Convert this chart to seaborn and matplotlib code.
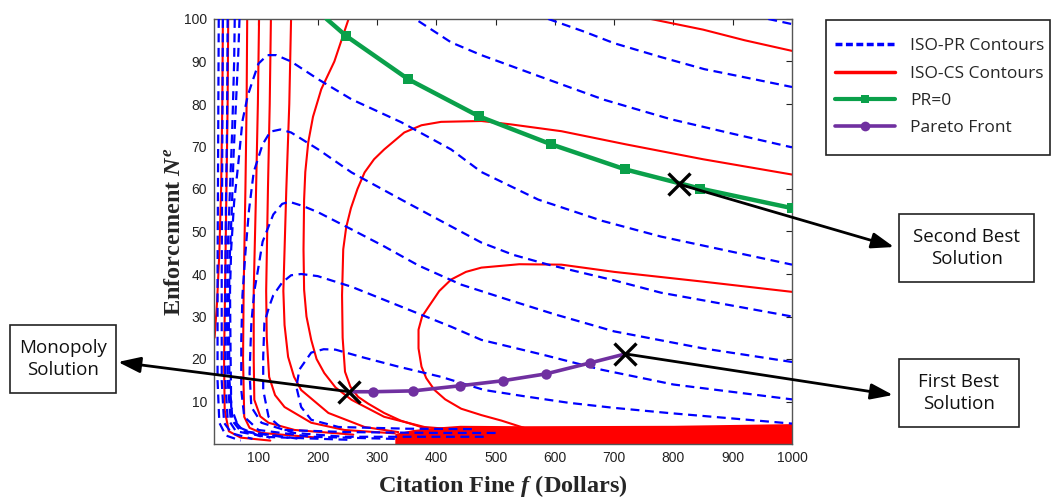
import pandas as pd
import seaborn as sns
import matplotlib.pyplot as plt
from matplotlib.lines import Line2D
from matplotlib.patches import Rectangle

# ISO-PR contours (blue dashed) (x = fine, y = enforcement)
pr_top = [(960, 100), (1000, 98.8)]
pr_a = [(589, 100), (650, 97), (700, 94.3), (780, 91), (852, 88.2), (930, 86), (1000, 84)]
pr_b = [(370, 99.5), (425, 94.5), (476, 91.5), (572, 86.6), (683, 81), (796, 76.4), (900, 73), (1000, 69.8)]
pr_c = [(250, 1.0), (105, 1.7), (66, 4), (54, 8.7), (53, 20.5), (52, 36), (54, 46), (59, 57), (66, 66),
        (73, 76), (82, 82), (90, 85.4), (100, 89.5), (115, 91.5), (130, 91.5), (155, 90), (201, 85.8),
        (257, 81.1), (341, 75.7), (425, 69.3), (476, 64), (572, 57.5), (611, 55.7), (680, 52.5),
        (779, 48.8), (890, 45.5), (1000, 42.2)]
pr_d = [(330, 1.2), (189, 1.7), (100, 3.3), (76, 6.4), (71, 12.7), (71, 24.5), (73, 35), (78, 45),
        (84, 55), (92, 64), (107, 70.5), (120, 73.5), (137, 74), (155, 73.3), (201, 69.3), (257, 63.9),
        (341, 57.5), (425, 51.2), (476, 47.4), (530, 44.5), (589, 42.2), (700, 38.5), (779, 35.6),
        (890, 32.8), (1000, 30)]
pr_e = [(480, 1.7), (245, 1.7), (160, 2.6), (105, 5), (88, 8.7), (85, 16.7), (88, 28.5), (93, 36),
        (98, 40), (107, 47.6), (125, 54), (140, 56.5), (152, 57), (175, 56), (201, 54.5), (257, 50.5),
        (312, 46.5), (370, 42), (442, 37.5), (520, 34), (600, 30.5), (700, 26.5), (850, 22.5), (1000, 19.3)]
pr_f = [(500, 2.6), (400, 2.6), (250, 2.8), (143, 3.3), (117, 6.4), (108, 12.7), (108, 20.5), (110, 28.5),
        (118, 32.3), (125, 35), (140, 38), (155, 39.7), (172, 40), (200, 39.5), (257, 37), (341, 32.3),
        (425, 27.6), (476, 24.5), (580, 21), (678, 17.5), (800, 14), (1000, 10.5)]
pr_g = [(460, 3.5), (350, 3.6), (235, 4), (189, 5.7), (172, 8.7), (164, 13.4), (169, 17.5), (189, 21.5),
        (210, 22.3), (230, 22.2), (273, 20.5), (336, 18.2), (408, 15.8), (481, 12.7), (550, 11.2),
        (623, 9.7), (700, 8.5), (791, 7.3), (900, 6), (1000, 4.8)]
pr_x1 = [(33, 100), (32, 70), (31, 40), (31, 15), (34, 5), (45, 2), (70, 0.8)]
pr_x2 = [(40, 100), (39, 70), (38, 40), (38, 15), (42, 5), (55, 2.5), (90, 1.2)]
pr_x3 = [(48, 100), (47, 75), (45, 55), (44, 35), (44, 15), (48, 6), (62, 3), (120, 1.5)]
pr_x4 = [(60, 100), (59, 90), (56, 75), (52, 60), (48, 45), (47, 30), (48, 15), (53, 6), (70, 3), (150, 1.5)]
pr_x5 = [(68, 100), (66, 92), (62, 80), (58, 68), (55, 55), (51, 42), (50, 30), (51, 15), (56, 6),
         (75, 3), (170, 1.2)]

# ISO-CS contours (red solid)
cs_r1 = [(40, 100), (39, 80), (37, 60), (34, 45), (30, 33), (26, 25)]
cs_r2 = [(49, 100), (48, 80), (46, 60), (44, 40), (42, 20), (43, 8), (50, 3), (70, 1.5), (120, 0.8)]
cs_a = [(81, 100), (80, 80), (78, 60), (75, 36), (74, 20), (76, 6.4), (85, 3.8), (105, 2.6), (200, 1.5)]
cs_b = [(101, 100), (99, 80), (96, 60), (92, 36), (92, 20), (93, 10.4), (103, 6.5), (117, 5), (161, 3.3),
        (260, 2.2)]
cs_c = [(121, 100), (119, 80), (116, 60), (113, 36), (114, 25), (118, 15.8), (128, 11.5), (144, 8.7),
        (189, 5), (245, 3.3), (330, 2.5)]
cs_d = [(155, 100), (152, 80), (147, 60), (142, 36), (144, 28), (150, 20.5), (160, 15.8), (172, 12.7),
        (218, 7.3), (279, 4), (336, 2.8)]
cs_e = [(252, 100), (228, 90), (206, 83.5), (192, 77), (184, 71), (179, 64), (177, 57.5), (176, 45.8),
        (177, 36.3), (181, 30), (189, 24.5), (198, 20), (211, 16.7), (230, 13.3), (257, 10.4), (312, 6.4),
        (380, 4), (450, 3.2)]
cs_loop1 = [(386, 3.5), (340, 5.5), (312, 7.3), (285, 9.5), (268, 11.1), (255, 13.5), (246, 17), (242, 25),
            (241, 35), (243, 45.8), (248, 51), (256, 55.5), (267, 60), (279, 63.9), (295, 67), (312, 69.3),
            (346, 73.3), (375, 75), (408, 75.8), (476, 76), (526, 75.2), (611, 73.6), (720, 70.5),
            (850, 67), (1000, 63.4)]
cs_loop2 = [(548, 3.8), (510, 5.5), (476, 6.8), (442, 8.3), (415, 10.5), (397, 12.7), (383, 15.5),
            (375, 18.2), (370, 22.5), (370, 26.9), (376, 30), (387, 32.3), (405, 36), (425, 38.7),
            (450, 40.5), (476, 41.5), (540, 42.3), (611, 42.2), (700, 40.5), (850, 38.2), (1000, 35.8)]
cs_topright = [(762, 100), (850, 97.5), (920, 95), (1000, 92.5)]

# dense band of ISO-CS contours along the bottom
band_x = [330, 360, 400, 440, 550, 800, 1000]
band_top = [2.5, 3.4, 4.0, 4.4, 4.3, 4.4, 4.8]

# PR=0 curve and Pareto front
green_x = [215, 248, 353, 472, 594, 719, 845, 1000]
green_y = [100, 96, 85.8, 77.1, 70.5, 64.6, 60.1, 55.5]
pareto_x = [253, 294, 361, 440, 513, 585, 660, 719]
pareto_y = [12.3, 12.3, 12.5, 13.7, 14.9, 16.5, 19.1, 21.2]

# solutions marked with X
sol_names = ['Monopoly', 'First Best', 'Second Best']
sol_x = [253, 719, 810]
sol_y = [12.3, 21.2, 61.1]


def to_frame(lines):
    rows = []
    for name, pts in lines.items():
        for i, (x, y) in enumerate(pts):
            rows.append((name, i, x, y))
    return pd.DataFrame(rows, columns=['line', 'order', 'x', 'y'])


pr_df = to_frame({'top': pr_top, 'a': pr_a, 'b': pr_b, 'c': pr_c, 'd': pr_d, 'e': pr_e, 'f': pr_f,
                  'g': pr_g, 'x1': pr_x1, 'x2': pr_x2, 'x3': pr_x3, 'x4': pr_x4, 'x5': pr_x5})
cs_df = to_frame({'r1': cs_r1, 'r2': cs_r2, 'a': cs_a, 'b': cs_b, 'c': cs_c, 'd': cs_d, 'e': cs_e,
                  'l1': cs_loop1, 'l2': cs_loop2, 'tr': cs_topright})

sns.set_style('white')
plt.rcParams['font.family'] = ['Liberation Sans', 'DejaVu Sans']
plt.rcParams['mathtext.fontset'] = 'custom'
plt.rcParams['mathtext.rm'] = 'Liberation Serif:bold'
plt.rcParams['mathtext.it'] = 'Liberation Serif:italic:bold'

GREEN = '#0aa04a'
PURPLE = '#7030a0'

fig = plt.figure(figsize=(10.58, 4.98), dpi=100)
ax = fig.add_axes([214 / 1058, 1 - 444 / 498, (792 - 214) / 1058, (444 - 19) / 498])

ax.fill_between(band_x, 0, band_top, color='red', lw=0, zorder=1)
sns.lineplot(data=cs_df, x='x', y='y', units='line', estimator=None, sort=False,
             color='red', lw=1.5, ax=ax, legend=False, zorder=2)
sns.lineplot(data=pr_df, x='x', y='y', units='line', estimator=None, sort=False,
             color='blue', lw=1.6, linestyle=(0, (4, 2.5)), ax=ax, legend=False, zorder=3)
sns.lineplot(x=green_x, y=green_y, estimator=None, color=GREEN, lw=3.2, marker='s', markersize=7,
             markeredgewidth=0, markevery=list(range(1, len(green_x))), ax=ax, zorder=4)
sns.lineplot(x=pareto_x, y=pareto_y, estimator=None, color=PURPLE, lw=2.6, marker='o', markersize=7.5,
             markeredgewidth=0, markevery=list(range(1, len(pareto_x) - 1)), ax=ax, zorder=4)
sns.scatterplot(x=sol_x, y=sol_y, marker='x', s=250, color='black', linewidth=2.4, ax=ax, zorder=5)

ax.set_xlim(25, 1000)
ax.set_ylim(0, 100)
ax.set_xticks(range(100, 1001, 100))
ax.set_yticks(range(10, 101, 10))
ax.tick_params(direction='in', top=True, right=True, length=4, width=0.8, labelsize=10,
               colors='#222222', pad=5)
for s in ax.spines.values():
    s.set_color('#555555')
    s.set_linewidth(1.0)

ax.set_xlabel('Citation Fine $f$ (Dollars)', family='Liberation Serif', fontweight='bold',
              fontsize=17.5, labelpad=6)
ax.set_ylabel('Enforcement $N^e$', family='Liberation Serif', fontweight='bold',
              fontsize=17.5, labelpad=-1)

# arrows from the solutions to their boxes
tips = [(118, 362), (893, 395), (894, 247)]
for (px, py), x, y in zip(tips, sol_x, sol_y):
    ax.annotate('', xy=(px / 1058, 1 - py / 498), xycoords='figure fraction',
                xytext=(x, y), textcoords='data', annotation_clip=False,
                arrowprops=dict(arrowstyle='-|>,head_length=0.9,head_width=0.32', color='black',
                                lw=2, shrinkA=0, shrinkB=0, mutation_scale=15), zorder=6)

boxes = [((10, 325, 116, 393), 'Monopoly\nSolution'),
         ((899, 214, 1034, 282), 'Second Best\nSolution'),
         ((899, 359, 1019, 427), 'First Best\nSolution')]
for (x0, y0, x1, y1), label in boxes:
    fig.patches.append(Rectangle((x0 / 1058, 1 - y1 / 498), (x1 - x0) / 1058, (y1 - y0) / 498,
                                 transform=fig.transFigure, fill=False, ec='#222222', lw=1.2))
    fig.text((x0 + x1) / 2 / 1058, 1 - (y0 + y1) / 2 / 498, label, ha='center', va='center',
             family='Open Sans', fontsize=13.5, linespacing=1.35, color='#111111')

# legend
fig.patches.append(Rectangle((826 / 1058, 1 - 155 / 498), 224 / 1058, 135 / 498,
                             transform=fig.transFigure, fill=False, ec='#222222', lw=1.2))
handles = [Line2D([], [], color='blue', lw=2.5, linestyle=(0, (2, 1))),
           Line2D([], [], color='red', lw=2.5),
           Line2D([], [], color=GREEN, lw=3, marker='s', markersize=6, markeredgewidth=0),
           Line2D([], [], color=PURPLE, lw=2.6, marker='o', markersize=7, markeredgewidth=0)]
labels = ['ISO-PR Contours', 'ISO-CS Contours', 'PR=0', 'Pareto Front']
fig.legend(handles, labels, loc='upper left', bbox_to_anchor=(835 / 1058, 1 - 38 / 498),
           frameon=False, borderpad=0, borderaxespad=0, handlelength=3.45, handletextpad=0.86,
           labelspacing=0.65, prop={'family': 'Open Sans', 'size': 12.5})

fig.savefig('out.png', dpi=100)
